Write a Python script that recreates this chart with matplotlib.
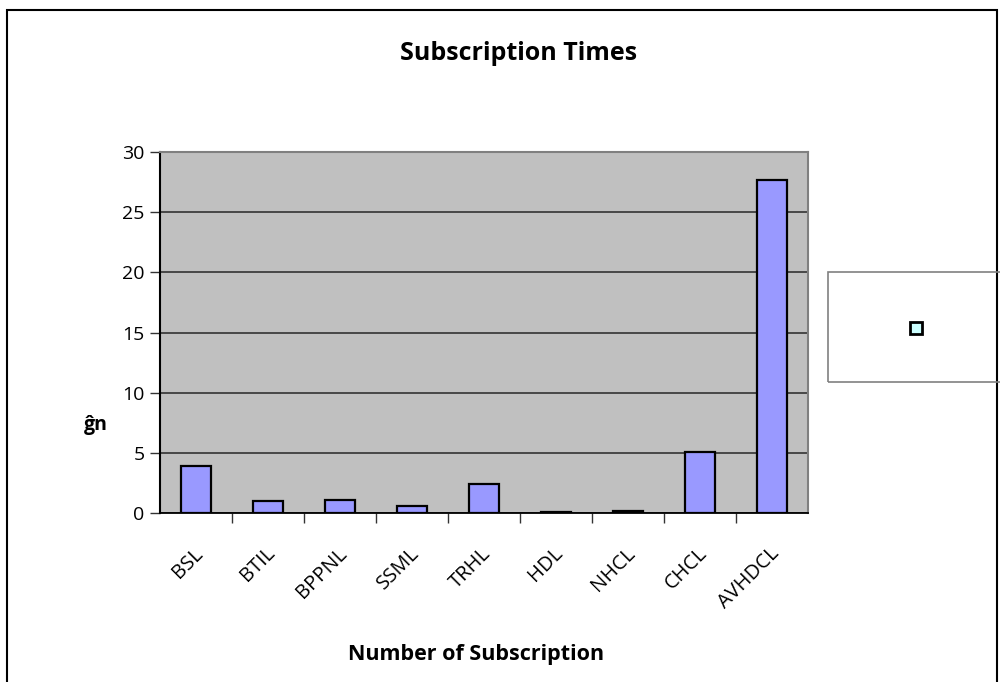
import numpy as np
import matplotlib.pyplot as plt
from matplotlib.patches import Rectangle
from matplotlib.lines import Line2D
from matplotlib.ticker import MultipleLocator
from matplotlib.transforms import ScaledTranslation

plt.rcParams['font.family'] = ['Open Sans', 'DejaVu Sans']

# Subscription times per company
companies = ["BSL", "BTIL", "BPPNL", "SSML", "TRHL", "HDL", "NHCL", "CHCL", "AVHDCL"]
times = [3.9, 1.0, 1.05, 0.55, 2.4, 0.1, 0.2, 5.1, 27.7]

fig = plt.figure(figsize=(10, 6.82), dpi=100)
ax = fig.add_axes([0.16, 0.2478, 0.648, 0.5293])

x = np.arange(len(companies))
ax.bar(x, times, width=0.42, color="#9999ff", edgecolor="black", linewidth=1.6, zorder=3)

ax.set_facecolor("#c0c0c0")
ax.set_xlim(-0.5, len(companies) - 0.5)
ax.set_ylim(0, 30)
ax.yaxis.set_major_locator(MultipleLocator(5))
ax.yaxis.grid(True, color="#333333", linewidth=1.2, zorder=0)

for side in ["top", "right"]:
    ax.spines[side].set_color("#808080")
    ax.spines[side].set_linewidth(1.5)
ax.spines["left"].set_linewidth(1.5)
ax.spines["bottom"].set_linewidth(1.3)

ax.tick_params(axis="y", length=7, width=1, labelsize=14, pad=4, color="#333333")
ax.set_xticks(x)
ax.set_xticklabels(companies, rotation=45, ha="right", va="center",
                   rotation_mode="anchor", fontsize=14.5)
ax.tick_params(axis="x", which="major", length=0, pad=27)
shift = ScaledTranslation(0.04, 0, fig.dpi_scale_trans)
for lbl in ax.get_xticklabels():
    lbl.set_transform(lbl.get_transform() + shift)
ax.set_xticks(np.arange(0.5, len(companies) - 0.5), minor=True)
ax.tick_params(axis="x", which="minor", length=7, width=1, color="#333333")

fig.text(0.519, 0.912, "Subscription Times", fontsize=18, fontweight="bold",
         ha="center", va="baseline")
fig.text(0.476, 0.0323, "Number of Subscription", fontsize=15.5, fontweight="bold",
         ha="center", va="baseline")

# y axis label, glyphs squeezed together
fig.text(0.096, 0.377, "ĝn", fontsize=14, fontweight="bold",
         ha="center", va="center")

# outer chart frame
fig.patches.append(Rectangle((0.007, -0.01), 0.99, 0.996, transform=fig.transFigure,
                             fill=False, edgecolor="black", linewidth=1.5))

# legend box
fig.patches.append(Rectangle((0.828, 0.44), 0.2, 0.161, transform=fig.transFigure,
                             fill=False, edgecolor="#808080", linewidth=1.2))
fig.lines.append(Line2D([0.916], [0.519], transform=fig.transFigure, marker="s",
                        markersize=8, markerfacecolor="#ccffff",
                        markeredgecolor="black", markeredgewidth=2))

fig.savefig("out.png", dpi=100)
